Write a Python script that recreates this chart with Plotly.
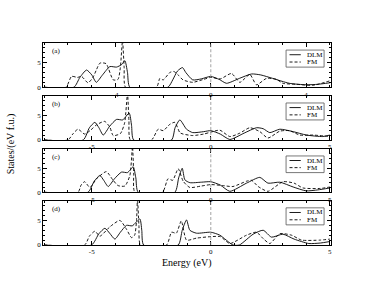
import plotly.graph_objects as go

# ---- data ----
panel_labels = ["(a)", "(b)", "(c)", "(d)"]
series_names = ["DLM", "FM"]

E_dlm_a = [-7, -5.75, -5.5, -5.22, -5.0, -4.81, -4.55, -4.24, -3.96, -3.75, -3.61, -3.5, -3.40, -1.8, -1.6, -1.4, -1.19, -1.05, -0.76, -0.4, 0, 0.35, 0.66, 1.2, 1.71, 2.1, 2.6, 3.3, 4.0, 4.5, 5]
D_dlm_a = [0, 0, 2.0, 3.5, 2.5, 1.0, 2.5, 4.2, 4.1, 4.6, 5.4, 3.0, 0, 0, 1.5, 3.3, 4.0, 3.0, 1.5, 1.7, 2.2, 1.6, 0.8, 1.8, 2.7, 2.5, 1.8, 0.8, 0.5, 0.6, 0.9]
E_fm_a = [-7, -6.09, -5.85, -5.6, -5.43, -5.16, -4.95, -4.81, -4.66, -4.4, -4.1, -3.9, -3.8, -3.71, -3.64, -3.58, -2.28, -2.14, -2.0, -1.72, -1.55, -1.35, -1.17, -0.76, -0.3, 0, 0.4, 0.87, 1.22, 1.64, 1.92, 2.34, 2.76, 3.03, 3.6, 4.3, 5]
D_fm_a = [0, 0, 2.2, 2.0, 2.2, 0.9, 2.0, 3.5, 4.9, 4.8, 1.5, 1.6, 4.0, 9.5, 4.0, 0, 0, 1.8, 1.5, 3.0, 3.2, 2.4, 1.5, 1.0, 1.6, 2.0, 1.7, 2.8, 1.0, 2.6, 0.5, 1.8, 1.6, 0.8, 0.6, 0.4, 1.3]

E_dlm_b = [-7, -5.36, -5.1, -4.87, -4.7, -4.52, -4.25, -3.96, -3.7, -3.43, -3.33, -3.24, -1.65, -1.5, -1.3, -1.02, -0.76, -0.3, 0, 0.4, 0.8, 1.4, 1.92, 2.2, 2.48, 2.9, 3.46, 4.02, 4.7, 5]
D_dlm_b = [0, 0, 2.5, 3.6, 2.5, 1.0, 2.8, 4.2, 4.1, 5.5, 3.0, 0, 0, 2.5, 4.1, 2.2, 1.5, 1.7, 1.9, 1.2, 0.1, 1.4, 2.5, 2.3, 1.5, 2.2, 1.7, 1.0, 0.7, 1.0]
E_fm_b = [-7, -6.0, -5.8, -5.58, -5.3, -5.05, -4.8, -4.46, -4.24, -4.1, -3.8, -3.62, -3.5, -3.44, -3.38, -2.49, -2.21, -2.0, -1.72, -1.51, -1.3, -1.16, -0.76, -0.3, 0, 0.38, 0.8, 1.22, 1.64, 2.06, 2.4, 2.9, 3.3, 3.74, 4.3, 5]
D_fm_b = [0, 0, 1.2, 2.2, 1.2, 2.0, 3.1, 3.8, 2.6, 0.9, 1.3, 3.5, 9.5, 4.0, 0, 0, 2.2, 1.9, 3.2, 3.6, 1.5, 1.2, 0.9, 1.2, 1.6, 2.0, 0.7, 1.4, 2.5, 1.7, 0.4, 1.8, 1.9, 1.0, 1.0, 0.7]

E_dlm_c = [-7, -5.16, -4.9, -4.66, -4.5, -4.31, -4.05, -3.75, -3.5, -3.26, -3.15, -3.05, -1.51, -1.35, -1.2, -1.09, -0.88, -0.4, 0, 0.4, 0.8, 1.5, 2.06, 2.4, 2.9, 3.46, 4.0, 4.5, 5]
D_dlm_c = [0, 0, 2.3, 3.5, 2.5, 1.2, 2.8, 4.2, 4.1, 5.3, 3.0, 0, 0, 3.0, 5.0, 2.6, 2.0, 2.1, 2.2, 1.5, 0.2, 1.9, 3.1, 1.9, 2.1, 1.1, 0.3, 0.5, 0.9]
E_fm_c = [-7, -5.58, -5.45, -5.3, -5.08, -4.8, -4.39, -4.12, -3.9, -3.61, -3.4, -3.29, -3.24, -3.19, -2.03, -1.8, -1.6, -1.37, -1.16, -0.88, -0.4, 0, 0.5, 0.93, 1.5, 1.71, 1.99, 2.4, 3.03, 3.5, 3.87, 4.6, 5]
D_fm_c = [0, 0, 1.5, 2.2, 1.0, 2.8, 4.3, 2.6, 1.4, 1.3, 3.5, 9.5, 4.0, 0, 0, 2.8, 2.5, 4.9, 2.3, 1.0, 1.3, 1.6, 1.4, 1.2, 2.3, 2.5, 1.2, 0.2, 2.2, 1.9, 0.9, 0.8, 1.1]

E_dlm_d = [-7, -5.01, -4.7, -4.45, -4.25, -4.03, -3.8, -3.54, -3.3, -2.98, -2.9, -2.82, -1.37, -1.2, -1.02, -0.88, -0.6, 0, 0.38, 0.93, 1.2, 1.78, 2.2, 2.55, 3.03, 3.5, 4.12, 4.6, 5]
D_dlm_d = [0, 0, 2.3, 3.4, 2.4, 1.2, 2.6, 4.0, 3.9, 5.3, 3.0, 0, 0, 3.0, 5.1, 3.0, 2.4, 2.6, 2.0, 0, 0, 2.2, 3.0, 1.6, 2.2, 1.2, 0.3, 0.4, 0.7]
E_fm_d = [-7, -5.3, -5.1, -4.87, -4.66, -4.24, -3.82, -3.54, -3.33, -3.2, -3.12, -3.08, -3.02, -2.95, -1.86, -1.65, -1.45, -1.24, -1.02, -0.6, 0, 0.4, 0.8, 1.5, 1.92, 2.2, 2.48, 2.9, 3.39, 3.81, 4.6, 5]
D_fm_d = [0, 0, 1.8, 2.8, 1.8, 3.7, 5.0, 3.2, 1.5, 2.0, 5.0, 9.5, 4.0, 0, 0, 2.6, 2.4, 4.9, 1.0, 1.4, 1.7, 1.7, 0.3, 2.0, 2.6, 1.3, 0.3, 2.3, 2.0, 1.0, 1.0, 1.2]

x_tickvals_a = [-4, 0, 4]
x_ticktext_a = ["-4", "0", "4"]
x_tickvals_other = [-5, 0, 5]
x_ticktext_other = ["-5", "0", "5"]
y_tickvals = [0, 5]
y_ticktext = ["0", "5"]

x_title = "Energy (eV)"
y_title = "States/(eV f.u.)"

# ---- figure ----
FONT = "Liberation Serif"
W, H = 374, 289
ML, MR, MT, MB = 43, 43, 43, 44
domains = [[0.781, 1.0], [0.52, 0.738], [0.261, 0.475], [0.0, 0.219]]

panels = [
    (E_dlm_a, D_dlm_a, E_fm_a, D_fm_a, x_tickvals_a, x_ticktext_a),
    (E_dlm_b, D_dlm_b, E_fm_b, D_fm_b, x_tickvals_other, x_ticktext_other),
    (E_dlm_c, D_dlm_c, E_fm_c, D_fm_c, x_tickvals_other, x_ticktext_other),
    (E_dlm_d, D_dlm_d, E_fm_d, D_fm_d, x_tickvals_other, x_ticktext_other),
]

fig = go.Figure()
layout = dict(
    width=W, height=H,
    margin=dict(l=ML, r=MR, t=MT, b=MB, pad=0),
    paper_bgcolor="white", plot_bgcolor="white",
    showlegend=False,
    font=dict(family=FONT, size=7, color="black"),
)
shapes = []
annotations = []

for i, (ed, dd, ef, df, tv, tt) in enumerate(panels):
    n = i + 1
    xa = "x" if n == 1 else f"x{n}"
    ya = "y" if n == 1 else f"y{n}"
    fig.add_trace(go.Scatter(x=ed, y=dd, mode="lines", xaxis=xa, yaxis=ya,
                             line=dict(color="black", width=0.9, shape="spline", smoothing=0.6),
                             name=series_names[0], cliponaxis=True))
    fig.add_trace(go.Scatter(x=ef, y=df, mode="lines", xaxis=xa, yaxis=ya,
                             line=dict(color="black", width=0.9, dash="3px,2px", shape="spline", smoothing=0.6),
                             name=series_names[1], cliponaxis=True))
    axkey_x = "xaxis" if n == 1 else f"xaxis{n}"
    axkey_y = "yaxis" if n == 1 else f"yaxis{n}"
    layout[axkey_x] = dict(
        domain=[0, 1], anchor=ya, range=[-7.05, 5.05],
        tickmode="array", tickvals=tv, ticktext=tt,
        ticks="inside", ticklen=4, tickwidth=0.8, tickcolor="black",
        minor=dict(dtick=1, ticks="inside", ticklen=2, tickwidth=0.8, tickcolor="black"),
        showline=True, linecolor="black", linewidth=0.8, mirror="allticks",
        showgrid=False, zeroline=False,
        tickfont=dict(family=FONT, size=7, color="black"),
    )
    layout[axkey_y] = dict(
        domain=domains[i], anchor=xa, range=[0, 9],
        tickmode="array", tickvals=y_tickvals, ticktext=y_ticktext,
        ticks="inside", ticklen=4, tickwidth=0.8, tickcolor="black",
        minor=dict(dtick=1, ticks="inside", ticklen=2, tickwidth=0.8, tickcolor="black"),
        showline=True, linecolor="black", linewidth=0.8, mirror="allticks",
        showgrid=False, zeroline=False,
        tickfont=dict(family=FONT, size=7, color="black"),
    )
    # vertical Fermi-level line
    shapes.append(dict(type="line", xref=xa, yref=f"{ya} domain", x0=0, x1=0, y0=0, y1=1,
                       line=dict(color="#999999", width=0.9, dash="3px,2px")))
    # legend box
    dx = f"{xa} domain"
    dy = f"{ya} domain"
    shapes.append(dict(type="rect", xref=dx, yref=dy, x0=0.844, x1=0.976, y0=0.455, y1=0.84,
                       line=dict(color="#555555", width=0.8), fillcolor="white"))
    shapes.append(dict(type="line", xref=dx, yref=dy, x0=0.856, x1=0.895, y0=0.735, y1=0.735,
                       line=dict(color="black", width=0.9)))
    shapes.append(dict(type="line", xref=dx, yref=dy, x0=0.856, x1=0.895, y0=0.57, y1=0.57,
                       line=dict(color="black", width=0.9, dash="3px,2px")))
    annotations.append(dict(xref=dx, yref=dy, x=0.91, y=0.735, text=series_names[0], showarrow=False,
                            xanchor="left", yanchor="middle", font=dict(family=FONT, size=7)))
    annotations.append(dict(xref=dx, yref=dy, x=0.91, y=0.57, text=series_names[1], showarrow=False,
                            xanchor="left", yanchor="middle", font=dict(family=FONT, size=7)))
    annotations.append(dict(xref=dx, yref=dy, x=0.025, y=0.96, text=panel_labels[i], showarrow=False,
                            xanchor="left", yanchor="top", font=dict(family=FONT, size=7)))

annotations.append(dict(xref="paper", yref="paper", x=0.5, y=-0.088, text=x_title, showarrow=False,
                        xanchor="center", yanchor="middle", font=dict(family=FONT, size=10)))
annotations.append(dict(xref="paper", yref="paper", x=-0.11, y=0.5, text=y_title, showarrow=False,
                        textangle=-90, xanchor="center", yanchor="middle", font=dict(family=FONT, size=10)))

layout["shapes"] = shapes
layout["annotations"] = annotations
fig.update_layout(**layout)
fig.write_html("out.html", config={"displayModeBar": False},
               post_script="document.body.style.margin='0';document.body.style.padding='0';")
